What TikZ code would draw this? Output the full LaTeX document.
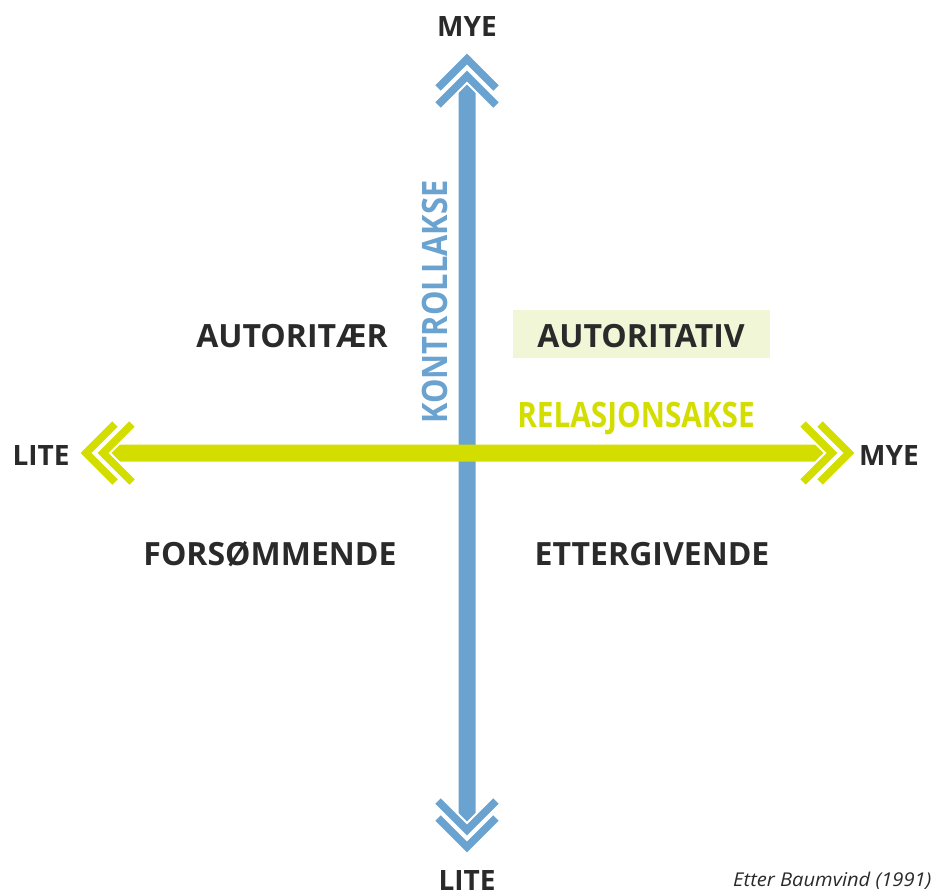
\documentclass[tikz,border=0pt]{standalone}
\usepackage{fontspec}
\setmainfont{Open Sans}
\definecolor{axblue}{HTML}{6AA2D0}
\definecolor{axgreen}{HTML}{D3DE00}
\definecolor{txt}{HTML}{2A2A2A}
\definecolor{boxfill}{HTML}{F1F6D6}
\tikzset{
  biglabel/.style={font=\fontsize{32}{36}\selectfont\bfseries, text=txt, inner sep=0pt, anchor=base},
  endlabel/.style={font=\fontsize{28}{32}\selectfont\bfseries, text=txt, inner sep=0pt, anchor=base},
  axislabel/.style={font=\fontsize{35}{40}\selectfont\bfseries, inner sep=0pt, anchor=base},
  chev/.style={line width=7.5pt, miter limit=10, line join=miter},
  chevwhite/.style={line width=12pt, miter limit=10, line join=miter, white},
}
\begin{document}
\begin{tikzpicture}[x=1pt,y=-1pt]
\useasboundingbox (0,0) rectangle (931,896);
% ---------------- vertical axis (blue) ----------------
\coordinate (vtop) at (467,82);
\coordinate (vbot) at (467,824);
\fill[axblue] (458.5,92) -- (vtop) -- (475.5,92) -- (475.5,814) -- (vbot) -- (458.5,814) -- cycle;
% top chevrons
\draw[chev, axblue] (438,88) -- (467,59) -- (496,88);
\draw[chevwhite] (438,105) -- (467,76) -- (496,105);
\draw[chev, axblue] (438,105) -- (467,76) -- (496,105);
% bottom chevrons
\draw[chev, axblue] (438,818) -- (467,847) -- (496,818);
\draw[chevwhite] (438,801) -- (467,830) -- (496,801);
\draw[chev, axblue] (438,801) -- (467,830) -- (496,801);
% ---------------- horizontal axis (green) ----------------
\coordinate (hleft) at (107,453);
\coordinate (hright) at (828,453);
\fill[axgreen] (hleft) -- (117,444.5) -- (818,444.5) -- (hright) -- (818,461.5) -- (117,461.5) -- cycle;
% left chevrons
\draw[chev, axgreen] (115,424) -- (86,453) -- (115,482);
\draw[chevwhite] (132,424) -- (103,453) -- (132,482);
\draw[chev, axgreen] (132,424) -- (103,453) -- (132,482);
% right chevrons
\draw[chev, axgreen] (820,424) -- (849,453) -- (820,482);
\draw[chevwhite] (803,424) -- (832,453) -- (803,482);
\draw[chev, axgreen] (803,424) -- (832,453) -- (803,482);
% ---------------- end labels ----------------
\node[endlabel] (mye-top) at (467,37) {MYE};
\node[endlabel] (lite-bot) at (467,890) {LITE};
\node[endlabel] (lite-left) at (41,465) {LITE};
\node[endlabel] (mye-right) at (889,465) {MYE};
% ---------------- axis names ----------------
\node[axislabel, text=axblue, rotate=90, xscale=0.88] (kontroll) at (447,302) {KONTROLLAKSE};
\node[axislabel, text=axgreen, xscale=0.85] (relasjon) at (636,427) {RELASJONSAKSE};
% ---------------- quadrant labels ----------------
\fill[boxfill] (513,310) rectangle (770,358);
\node[biglabel] (autoritaer) at (292,347) {AUTORITÆR};
\node[biglabel] (autoritativ) at (641,347) {AUTORITATIV};
\node[biglabel] (forsommende) at (270,565) {FORSØMMENDE};
\node[biglabel] (ettergivende) at (652,565) {ETTERGIVENDE};
% ---------------- source ----------------
\node[font=\fontsize{19}{22}\selectfont\itshape, text=txt, inner sep=0pt, anchor=base west, xscale=1.06] (source) at (733,886) {Etter Baumvind (1991)};
\end{tikzpicture}
\end{document}
